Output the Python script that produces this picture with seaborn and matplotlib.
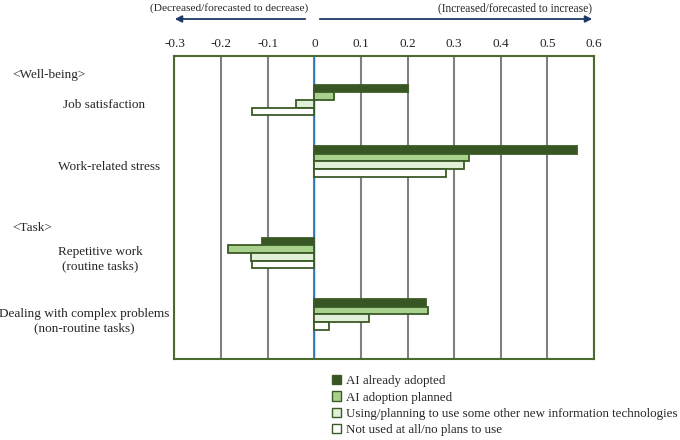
import matplotlib
matplotlib.use("Agg")
import matplotlib.pyplot as plt
from matplotlib.patches import Patch
import pandas as pd
import seaborn as sns

# data
items = ["Job satisfaction", "Work-related stress",
         "Repetitive work\n(routine tasks)",
         "Dealing with complex problems\n(non-routine tasks)"]
series = ["AI already adopted", "AI adoption planned",
          "Using/planning to use some other new information technologies",
          "Not used at all/no plans to use"]
ai_adopted = [0.200, 0.563, -0.113, 0.239]
ai_planned = [0.042, 0.331, -0.186, 0.243]
other_it = [-0.039, 0.321, -0.136, 0.117]
not_used = [-0.134, 0.283, -0.134, 0.032]
xticks = [-0.3, -0.2, -0.1, 0, 0.1, 0.2, 0.3, 0.4, 0.5, 0.6]
xtick_labels = ["-0.3", "-0.2", "-0.1", "0", "0.1", "0.2", "0.3", "0.4", "0.5", "0.6"]

# layout: row positions (gap between the two sections)
row_pos = [0, 1, 2.5, 3.5]
colors = ["#375623", "#A9D18E", "#E2F0D9", "#FFFFFF"]
edge = "#3B5A26"

rows = []
for s, vals in zip(series, [ai_adopted, ai_planned, other_it, not_used]):
    for p, v in zip(row_pos, vals):
        rows.append({"series": s, "pos": p, "value": v})
df = pd.DataFrame(rows)

sns.set_style("white")
plt.rcParams["font.family"] = ["Liberation Serif", "DejaVu Serif"]

fig = plt.figure(figsize=(6.8, 4.4), dpi=100)
ax = fig.add_axes([174.5 / 680, 1 - 359 / 440, (594 - 174.5) / 680, (359 - 56) / 440])

sns.barplot(data=df, x="value", y="pos", hue="series", hue_order=series,
            orient="h", native_scale=True, width=0.5, palette=colors,
            edgecolor=edge, linewidth=1.3, errorbar=None, legend=False,
            saturation=1, ax=ax, zorder=3)

ax.set_xlim(-0.3, 0.6)
ax.set_ylim(4.23, -0.72)
ax.set_xticks(xticks)
ax.set_xticklabels(xtick_labels, fontsize=9.5)
ax.xaxis.tick_top()
ax.tick_params(axis="x", length=0, pad=4)
ax.set_yticks([])
ax.set_xlabel("")
ax.set_ylabel("")
ax.grid(axis="x", color="#808080", linewidth=1.5, zorder=0)
ax.set_axisbelow(True)
ax.axvline(0, color="#2E75B6", linewidth=1, zorder=2)
for sp in ax.spines.values():
    sp.set_color("#4A6B2E")
    sp.set_linewidth(1.5)
    sp.set_zorder(4)

# direction arrows and notes
arrow_kw = dict(arrowstyle="-|>", color="#1F3864", lw=1.3, mutation_scale=10)
fig.add_artist(matplotlib.patches.FancyArrowPatch(
    (308 / 680, 1 - 19 / 440), (172 / 680, 1 - 19 / 440),
    transform=fig.transFigure, **arrow_kw))
fig.add_artist(matplotlib.patches.FancyArrowPatch(
    (317 / 680, 1 - 19 / 440), (595 / 680, 1 - 19 / 440),
    transform=fig.transFigure, **arrow_kw))
fig.text(229 / 680, 1 - 8 / 440, "(Decreased/forecasted to decrease)",
         ha="center", va="center", fontsize=8.2)
fig.text(515 / 680, 1 - 8 / 440, "(Increased/forecasted to increase)",
         ha="center", va="center", fontsize=8.3)

# row labels and section headers
fig.text(12 / 680, 1 - 75 / 440, "<Well-being>", ha="left", va="center", fontsize=9.5)
fig.text(12 / 680, 1 - 228 / 440, "<Task>", ha="left", va="center", fontsize=9.5)
label_xy = [(104, 105), (109, 167), (100, 259), (84, 321)]
for lab, (x, y) in zip(items, label_xy):
    fig.text(x / 680, 1 - y / 440, lab, ha="center", va="center",
             multialignment="center", fontsize=9.5, linespacing=1.3)

handles = [Patch(facecolor=c, edgecolor=edge, linewidth=1) for c in colors]
fig.legend(handles, series, loc="upper left",
           bbox_to_anchor=(332 / 680, 1 - 375 / 440), frameon=False,
           fontsize=9.4, handlelength=0.7, handleheight=0.7, handletextpad=0.35,
           labelspacing=0.33, borderpad=0, borderaxespad=0)

fig.savefig("out.png", dpi=100)
